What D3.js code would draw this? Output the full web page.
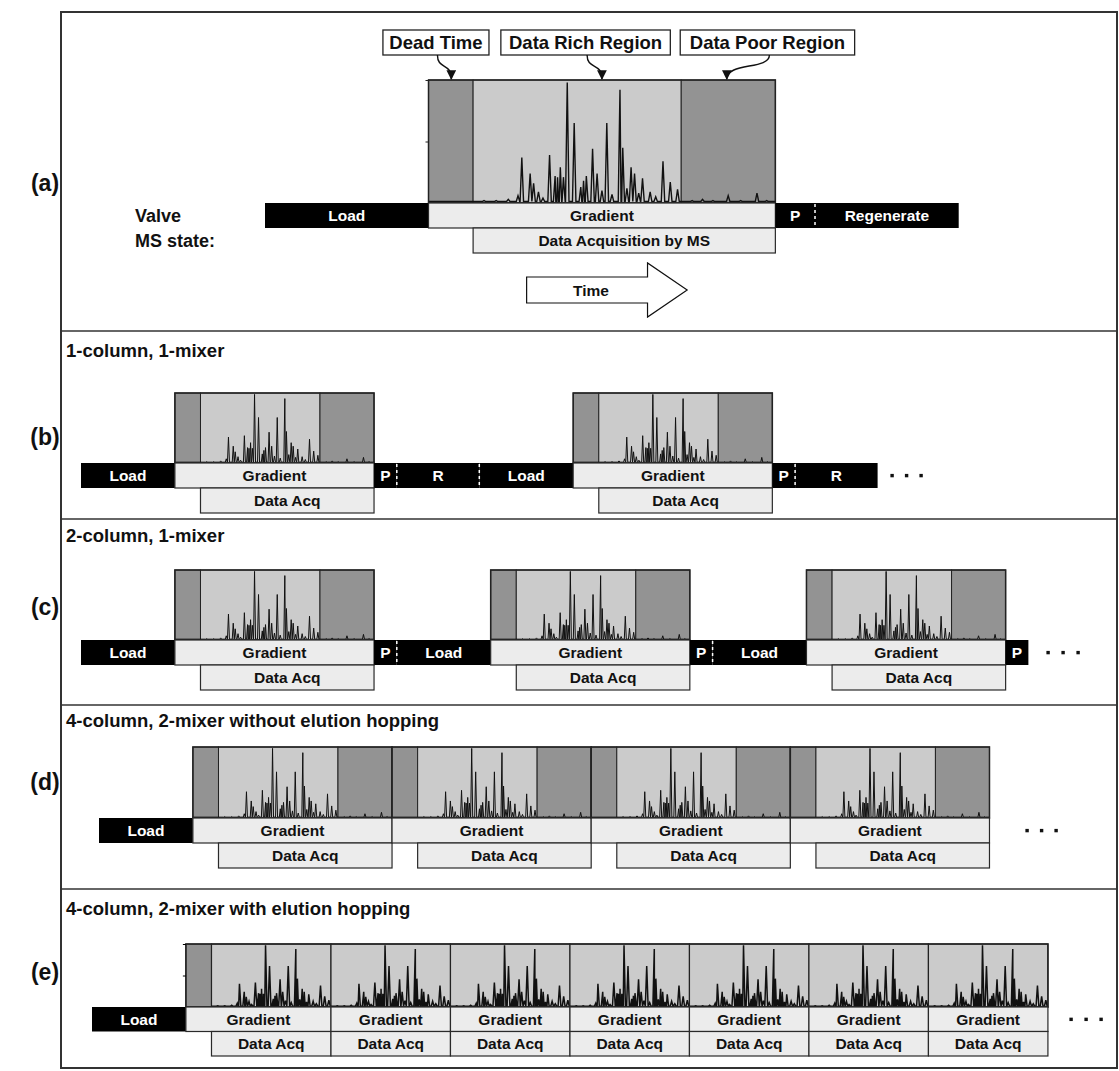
<!DOCTYPE html>
<html>
<head>
<meta charset="utf-8">
<title>LC-MS scheduling</title>
<script src="https://d3js.org/d3.v7.min.js"></script>
<style>
  body { margin: 0; background: #fff; }
  text { font-family: Arial, "Liberation Sans", sans-serif; font-weight: bold; }
</style>
</head>
<body>
<script>
// step lengths (arbitrary minutes): load, dead time, data rich, data poor, park, regenerate
const stepNames = ["Load", "Dead Time", "Data Rich", "Data Poor", "P", "Regenerate"];
const stepMinutes = [16.5, 4.5, 21, 9.5, 4, 14.5];

// chromatogram peaks, position as fraction of the gradient, height relative to box
const peakPos = [0.160, 0.195, 0.230, 0.258, 0.269, 0.293, 0.303, 0.317, 0.330, 0.349, 0.365, 0.372,
                 0.380, 0.389, 0.400, 0.420, 0.439, 0.447, 0.455, 0.473, 0.486, 0.500, 0.514, 0.529,
                 0.552, 0.560, 0.572, 0.584, 0.594, 0.606, 0.617, 0.639, 0.655, 0.676, 0.697, 0.718,
                 0.760, 0.790, 0.820, 0.864, 0.900, 0.947, 0.975];
const peakHeight = [0.02, 0.02, 0.03, 0.06, 0.37, 0.24, 0.16, 0.09, 0.04, 0.39, 0.22, 0.21,
                    0.29, 0.21, 0.98, 0.65, 0.13, 0.18, 0.22, 0.44, 0.24, 0.10, 0.65, 0.07,
                    0.92, 0.45, 0.12, 0.29, 0.24, 0.08, 0.20, 0.09, 0.05, 0.34, 0.17, 0.11,
                    0.02, 0.03, 0.02, 0.06, 0.02, 0.08, 0.02];

const panelLetters = ["(a)", "(b)", "(c)", "(d)", "(e)"];
const panelTitles = ["", "1-column, 1-mixer", "2-column, 1-mixer",
                     "4-column, 2-mixer without elution hopping", "4-column, 2-mixer with elution hopping"];
const calloutLabels = ["Dead Time", "Data Rich Region", "Data Poor Region"];
// callout boxes and arrows in panel (a) minutes
const calloutStart = [11.9, 23.8, 41.9];
const calloutEnd = [22.6, 40.9, 59.5];
const arrowFrom = [17.4, 32.5, 50.9];
const arrowTo = [18.8, 34.0, 46.6];

const [LOAD, DEAD, RICH, POOR, PARK, REGEN] = stepMinutes;
const GRAD = DEAD + RICH + POOR;
const FS = 15.5;

const svg = d3.select("body").append("svg").attr("width", 1119).attr("height", 1071);

svg.append("defs").append("marker")
    .attr("id", "head").attr("viewBox", "0 0 10 10").attr("refX", 9).attr("refY", 5)
    .attr("markerWidth", 7).attr("markerHeight", 7).attr("orient", "auto")
  .append("path").attr("d", "M0,0 L10,5 L0,10 z").attr("fill", "#111");

// frame + panel dividers
const dividers = [331, 519, 705, 889];
svg.append("rect").attr("x", 61).attr("y", 12).attr("width", 1056).attr("height", 1056)
    .attr("fill", "none").attr("stroke", "#333").attr("stroke-width", 2);
svg.selectAll(".div").data(dividers).join("line")
    .attr("x1", 61).attr("x2", 1117).attr("y1", d => d).attr("y2", d => d)
    .attr("stroke", "#333").attr("stroke-width", 1.6);

const letterY = [183, 437, 607, 782, 972];
svg.selectAll(".lett").data(panelLetters).join("text")
    .attr("x", 45).attr("y", (d, i) => letterY[i] + 8).attr("text-anchor", "middle")
    .attr("font-size", 23).attr("fill", "#111").text(d => d);

const titleY = [0, 357, 542, 727, 915];
svg.selectAll(".title").data(panelTitles.slice(1)).join("text")
    .attr("x", 66).attr("y", (d, i) => titleY[i + 1]).attr("font-size", 18.5).attr("fill", "#111")
    .text(d => d);

function block(g, x, t0, t1, y, h, dark, label, fs) {
    g.append("rect").attr("x", x(t0)).attr("y", y).attr("width", x(t1) - x(t0)).attr("height", h)
        .attr("fill", dark ? "#000" : "#ececec")
        .attr("stroke", dark ? "#000" : "#2a2a2a").attr("stroke-width", dark ? 0 : 1.2);
    if (label) {
        g.append("text").attr("x", (x(t0) + x(t1)) / 2).attr("y", y + h / 2 + fs * 0.36)
            .attr("text-anchor", "middle").attr("font-size", fs)
            .attr("fill", dark ? "#fff" : "#111").text(label);
    }
}

function dash(g, xp, y, h) {
    g.append("line").attr("x1", xp).attr("x2", xp).attr("y1", y + 1).attr("y2", y + h - 1)
        .attr("stroke", "#fff").attr("stroke-width", 1.5).attr("stroke-dasharray", "3,3");
}

function peakPoints(lo, hi, w) {
    const pts = [[lo, 0.012]];
    peakPos.forEach((p, i) => {
        if (p - w <= lo || p + w >= hi) return;
        pts.push([p - w, 0.012], [p, peakHeight[i]], [p + w, 0.012]);
    });
    pts.push([hi, 0.012]);
    return pts.sort((a, b) => a[0] - b[0]);
}

// one chromatogram over a gradient starting at t0
function chrom(g, x, t0, top, bottom, lw, w, ticks) {
    const regions = [[0, DEAD, "#939393"], [DEAD, DEAD + RICH, "#cbcbcb"], [DEAD + RICH, GRAD, "#939393"]];
    regions.forEach(r => {
        g.append("rect").attr("x", x(t0 + r[0])).attr("y", top)
            .attr("width", x(t0 + r[1]) - x(t0 + r[0])).attr("height", bottom - top)
            .attr("fill", r[2]).attr("stroke", "#222").attr("stroke-width", 1);
    });
    const gx = d3.scaleLinear().domain([0, 1]).range([x(t0), x(t0 + GRAD)]);
    const gy = d3.scaleLinear().domain([0, 1]).range([bottom, top]);
    g.append("path").datum(peakPoints(0, 1, w))
        .attr("d", d3.line().x(d => gx(d[0])).y(d => gy(d[1])))
        .attr("fill", "none").attr("stroke", "#111").attr("stroke-width", lw);
    g.append("rect").attr("x", x(t0)).attr("y", top).attr("width", x(t0 + GRAD) - x(t0))
        .attr("height", bottom - top).attr("fill", "none").attr("stroke", "#222").attr("stroke-width", 1.5);
    if (ticks) {
        g.append("g").attr("transform", `translate(${x(t0)},0)`)
            .call(d3.axisLeft(gy).tickValues([0.5, 1]).tickSize(3).tickFormat(""))
            .call(a => a.select(".domain").remove())
            .call(a => a.selectAll("line").attr("stroke", "#222"));
    }
}

function dots(g, xs, y) {
    g.selectAll(".dot").data(xs).join("rect")
        .attr("x", d => d - 1.6).attr("y", y - 1.6).attr("width", 3.4).attr("height", 3.4).attr("fill", "#111");
}

// ---------- (a) ----------
{
    const g = svg.append("g");
    const x = d3.scaleLinear().domain([0, 70]).range([265, 265 + 70 * 9.91]);
    const top = 80, barY = 203, barH = 25;
    chrom(g, x, LOAD, top, barY, 1.4, 0.005, true);
    block(g, x, 0, LOAD, barY, barH, true, "Load", FS);
    block(g, x, LOAD, LOAD + GRAD, barY, barH, false, "Gradient", FS);
    block(g, x, LOAD + GRAD, LOAD + GRAD + PARK, barY, barH, true, "P", FS);
    block(g, x, LOAD + GRAD + PARK, 70, barY, barH, true, "Regenerate", FS);
    dash(g, x(LOAD + GRAD + PARK), barY, barH);
    block(g, x, LOAD + DEAD, LOAD + GRAD, barY + barH, barH, false, "Data Acquisition by MS", FS);

    g.append("text").attr("x", 135).attr("y", barY + barH / 2 + 6.5).attr("font-size", 18).attr("fill", "#111").text("Valve");
    g.append("text").attr("x", 135).attr("y", barY + barH * 1.5 + 6.5).attr("font-size", 18).attr("fill", "#111").text("MS state:");

    calloutLabels.forEach((lab, i) => {
        g.append("rect").attr("x", x(calloutStart[i])).attr("y", 30)
            .attr("width", x(calloutEnd[i]) - x(calloutStart[i])).attr("height", 25)
            .attr("fill", "#fff").attr("stroke", "#222").attr("stroke-width", 1.3);
        g.append("text").attr("x", (x(calloutStart[i]) + x(calloutEnd[i])) / 2).attr("y", 49)
            .attr("text-anchor", "middle").attr("font-size", 18.5).attr("fill", "#111").text(lab);
        const x0 = x(arrowFrom[i]), x1 = x(arrowTo[i]);
        g.append("path").attr("d", `M${x0},55 C${x0},70 ${x1},62 ${x1},79`)
            .attr("fill", "none").attr("stroke", "#111").attr("stroke-width", 1.4)
            .attr("marker-end", "url(#head)");
    });

    // time arrow
    const ay = 290;
    const arrow = [[26.4, ay - 13], [38.6, ay - 13], [38.6, ay - 27], [42.6, ay], [38.6, ay + 27], [38.6, ay + 13], [26.4, ay + 13]];
    g.append("path").attr("d", d3.line().x(d => x(d[0])).y(d => d[1])(arrow) + "Z")
        .attr("fill", "#fff").attr("stroke", "#111").attr("stroke-width", 1.2);
    g.append("text").attr("x", x(32.9)).attr("y", ay + 5.5).attr("text-anchor", "middle")
        .attr("font-size", FS).attr("fill", "#111").text("Time");
}

const PX = 5.69;

// ---------- (b) ----------
{
    const g = svg.append("g");
    const cyc = LOAD + GRAD + PARK + REGEN;
    const x = d3.scaleLinear().domain([0, 2 * cyc]).range([81, 81 + 2 * cyc * PX]);
    const top = 393, barY = 463, barH = 25;
    [0, cyc].forEach(s => {
        chrom(g, x, s + LOAD, top, barY, 1, 0.005, false);
        block(g, x, s, s + LOAD, barY, barH, true, "Load", FS);
        block(g, x, s + LOAD, s + LOAD + GRAD, barY, barH, false, "Gradient", FS);
        block(g, x, s + LOAD + GRAD, s + LOAD + GRAD + PARK, barY, barH, true, "P", FS);
        block(g, x, s + LOAD + GRAD + PARK, s + cyc, barY, barH, true, "R", FS);
        block(g, x, s + LOAD + DEAD, s + LOAD + GRAD, barY + barH, barH, false, "Data Acq", FS);
    });
    [LOAD + GRAD + PARK, cyc, cyc + LOAD + GRAD + PARK].forEach(t => dash(g, x(t), barY, barH));
    dots(g, [892, 906.5, 921], barY + barH / 2);
}

// ---------- (c) ----------
{
    const g = svg.append("g");
    const cyc = LOAD + GRAD + PARK;
    const x = d3.scaleLinear().domain([0, 3 * cyc]).range([81, 81 + 3 * cyc * PX]);
    const top = 570, barY = 640, barH = 25;
    [0, cyc, 2 * cyc].forEach(s => {
        chrom(g, x, s + LOAD, top, barY, 1, 0.005, false);
        block(g, x, s, s + LOAD, barY, barH, true, "Load", FS);
        block(g, x, s + LOAD, s + LOAD + GRAD, barY, barH, false, "Gradient", FS);
        block(g, x, s + LOAD + GRAD, s + cyc, barY, barH, true, "P", FS);
        block(g, x, s + LOAD + DEAD, s + LOAD + GRAD, barY + barH, barH, false, "Data Acq", FS);
    });
    [cyc, 2 * cyc].forEach(t => dash(g, x(t), barY, barH));
    dots(g, [1048, 1063, 1078], barY + barH / 2);
}

// ---------- (d) ----------
{
    const g = svg.append("g");
    const n = 4;
    const x = d3.scaleLinear().domain([0, LOAD + n * GRAD]).range([99, 99 + (LOAD + n * GRAD) * PX]);
    const top = 747, barY = 818, barH = 25;
    block(g, x, 0, LOAD, barY, barH, true, "Load", FS);
    d3.range(n).forEach(k => {
        const s = LOAD + k * GRAD;
        chrom(g, x, s, top, barY, 1, 0.005, false);
        block(g, x, s, s + GRAD, barY, barH, false, "Gradient", FS);
        block(g, x, s + DEAD, s + GRAD, barY + barH, barH, false, "Data Acq", FS);
    });
    dots(g, [1027, 1041.5, 1056], barY + barH / 2);
}

// ---------- (e) ----------
{
    const g = svg.append("g");
    const n = 7;
    const end = LOAD + DEAD + n * RICH;
    const x = d3.scaleLinear().domain([0, end]).range([92, 92 + end * PX]);
    const top = 944, barY = 1007, barH = 24.5;
    const gy = d3.scaleLinear().domain([0, 1]).range([barY, top]);
    g.append("rect").attr("x", x(LOAD)).attr("y", top).attr("width", x(LOAD + DEAD) - x(LOAD))
        .attr("height", barY - top).attr("fill", "#939393").attr("stroke", "#222");
    const lo = DEAD / GRAD, hi = (DEAD + RICH) / GRAD;
    d3.range(n).forEach(k => {
        const s = LOAD + DEAD + k * RICH;
        g.append("rect").attr("x", x(s)).attr("y", top).attr("width", x(s + RICH) - x(s))
            .attr("height", barY - top).attr("fill", "#cbcbcb").attr("stroke", "#222").attr("stroke-width", 1.2);
        const gx = d3.scaleLinear().domain([lo, hi]).range([x(s), x(s + RICH)]);
        g.append("path").datum(peakPoints(lo, hi, 0.007))
            .attr("d", d3.line().x(d => gx(d[0])).y(d => gy(d[1])))
            .attr("fill", "none").attr("stroke", "#111").attr("stroke-width", 1.5);
    });
    g.append("rect").attr("x", x(LOAD)).attr("y", top).attr("width", x(end) - x(LOAD))
        .attr("height", barY - top).attr("fill", "none").attr("stroke", "#222").attr("stroke-width", 1.5);
    g.append("g").attr("transform", `translate(${x(LOAD)},0)`)
        .call(d3.axisLeft(gy).tickValues([0.5, 1]).tickSize(3).tickFormat(""))
        .call(a => a.select(".domain").remove());

    block(g, x, 0, LOAD, barY, barH, true, "Load", FS);
    d3.range(n).forEach(k => {
        const s = LOAD + DEAD + k * RICH;
        block(g, x, k === 0 ? LOAD : s, s + RICH, barY, barH, false, "Gradient", FS);
        block(g, x, s, s + RICH, barY + barH, barH, false, "Data Acq", FS);
    });
    dots(g, [1071, 1086, 1101], barY + barH / 2);
}
</script>
</body>
</html>
